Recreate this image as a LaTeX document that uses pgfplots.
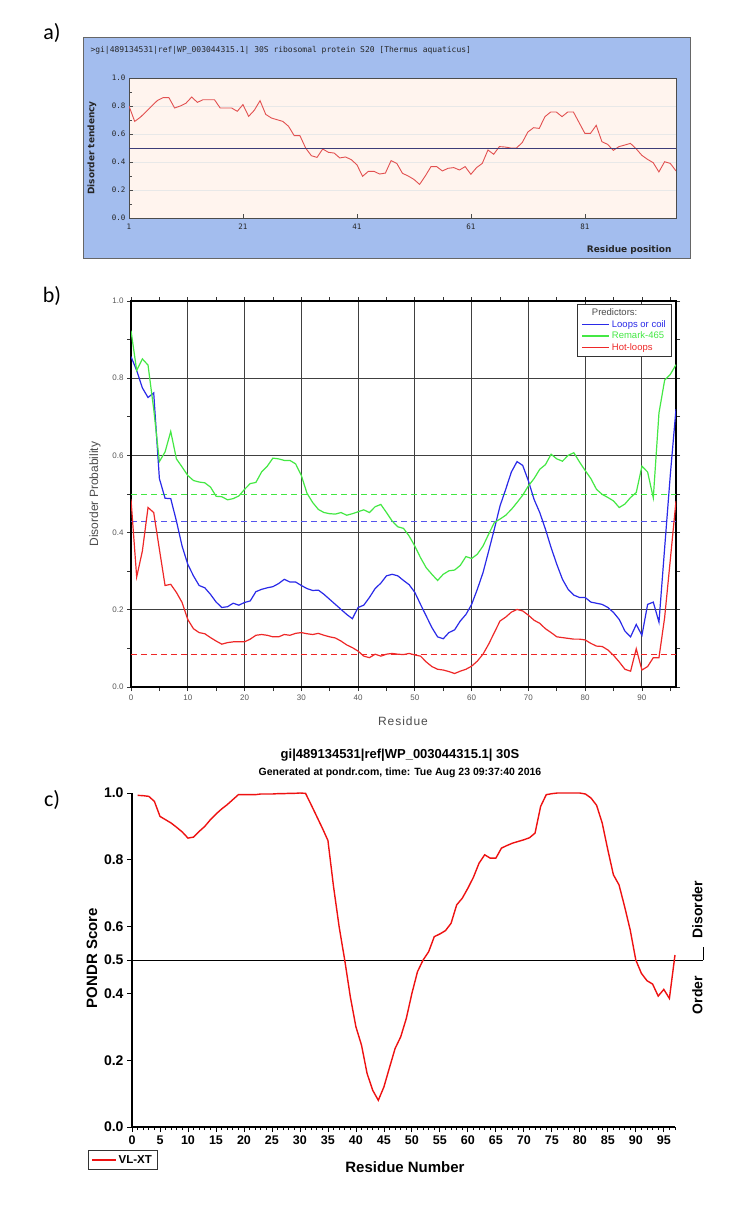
\documentclass[border=0pt]{standalone}
\usepackage{fontspec}
\setmainfont{Liberation Sans}
\newfontfamily\monof{DejaVu Sans Mono}
\newfontfamily\verdf{DejaVu Sans}
\newfontfamily\carlf{Carlito}
\usepackage{pgfplots}
\pgfplotsset{compat=1.18}
\pgfplotsset{/pgf/number format/assume math mode=true}
\definecolor{frameblue}{HTML}{A3BDEE}
\definecolor{pinkbg}{HTML}{FFF4EE}
\definecolor{aRed}{HTML}{E25050}
\definecolor{aLine}{HTML}{3C3C78}
\definecolor{bBlue}{HTML}{2A2AE8}
\definecolor{bGreen}{HTML}{44E844}
\definecolor{bRed}{HTML}{EE2828}
\definecolor{cRed}{HTML}{EE1111}
\begin{document}
\begin{tikzpicture}
\path[use as bounding box] (0pt,0pt) rectangle (738pt,-1210pt);
\fill[white] (0pt,0pt) rectangle (738pt,-1210pt);
% panel letters
\node[font=\carlf\fontsize{22}{24}\selectfont] at (52pt,-33pt) {a)};
\node[font=\carlf\fontsize{22}{24}\selectfont] at (52pt,-296pt) {b)};
\node[font=\carlf\fontsize{22}{24}\selectfont] at (52pt,-800pt) {c)};
% ---------------- panel a ----------------
\filldraw[fill=frameblue, draw=black!60, line width=0.8pt] (83pt,-37pt) rectangle (690pt,-258pt);
\node[anchor=west, font=\monof\fontsize{8}{9}\selectfont, text=black!85] at (87pt,-50pt)
  {>gi|489134531|ref|WP\_003044315.1| 30S ribosomal protein S20 [Thermus aquaticus]};
\node[rotate=90, font=\verdf\bfseries\fontsize{9}{10}\selectfont, text=black!85] at (92pt,-148pt) {Disorder tendency};
\node[anchor=east, font=\verdf\bfseries\fontsize{9}{10}\selectfont, text=black!85] at (675pt,-250pt) {Residue position};
\begin{axis}[at={(129pt,-218pt)}, anchor=south west, scale only axis,
  width=547pt, height=140pt, xmin=1, xmax=97, ymin=0, ymax=1,
  axis background/.style={fill=pinkbg},
  axis line style={black!70, line width=0.8pt},
  xtick={1,21,41,61,81}, ytick={0,0.2,0.4,0.6,0.8,1.0}, minor ytick={0.1,0.3,0.5,0.7,0.9},
  yticklabels={0.0,0.2,0.4,0.6,0.8,1.0},
  xtick pos=left, ytick pos=left, tick align=inside,
  major tick length=4pt, minor tick length=3pt,
  tick style={black!70, line width=0.6pt},
  ymajorgrids, major grid style={black!9, line width=0.7pt},
  tick label style={font=\monof\fontsize{7.5}{9}\selectfont, text=black!85},
  xticklabel style={yshift=-2pt}]
\addplot[aRed, line width=0.9pt] coordinates {
(1,0.80)(2,0.69)(3,0.72)(4,0.76)(5,0.80)(6,0.84)(7,0.86)(8,0.86)(9,0.786)(10,0.80)
(11,0.82)(12,0.864)(13,0.826)(14,0.845)(15,0.845)(16,0.845)(17,0.786)(18,0.786)(19,0.786)(20,0.762)
(21,0.81)(22,0.726)(23,0.77)(24,0.838)(25,0.74)(26,0.714)(27,0.702)(28,0.69)(29,0.655)(30,0.588)
(31,0.588)(32,0.50)(33,0.445)(34,0.433)(35,0.493)(36,0.469)(37,0.464)(38,0.429)(39,0.436)(40,0.417)
(41,0.38)(42,0.298)(43,0.333)(44,0.333)(45,0.314)(46,0.321)(47,0.41)(48,0.39)(49,0.319)(50,0.30)
(51,0.276)(52,0.24)(53,0.30)(54,0.367)(55,0.367)(56,0.336)(57,0.355)(58,0.36)(59,0.343)(60,0.367)
(61,0.312)(62,0.36)(63,0.39)(64,0.486)(65,0.455)(66,0.51)(67,0.507)(68,0.50)(69,0.50)(70,0.538)
(71,0.614)(72,0.645)(73,0.64)(74,0.724)(75,0.757)(76,0.757)(77,0.724)(78,0.757)(79,0.757)(80,0.681)
(81,0.605)(82,0.605)(83,0.662)(84,0.545)(85,0.526)(86,0.483)(87,0.51)(88,0.521)(89,0.533)(90,0.495)
(91,0.448)(92,0.419)(93,0.395)(94,0.329)(95,0.402)(96,0.39)(97,0.336)};
\addplot[aLine, line width=0.9pt] coordinates {(1,0.5)(97,0.5)};
\end{axis}
% ---------------- panel b ----------------
\node[rotate=90, font=\fontsize{12}{14}\selectfont, text=black!70] at (95pt,-494pt) {Disorder Probability};
\node[font=\fontsize{12}{14}\selectfont\addfontfeature{LetterSpace=8}, text=black!70] at (403pt,-721pt) {Residue};
\begin{axis}[at={(131pt,-687pt)}, anchor=south west, scale only axis,
  width=545pt, height=386pt, xmin=0, xmax=96, ymin=0, ymax=1,
  axis line style={black, line width=1.1pt},
  xtick={0,10,...,90}, minor xtick={5,15,...,95},
  ytick={0,0.2,0.4,0.6,0.8,1.0}, minor ytick={0.1,0.3,0.5,0.7,0.9},
  yticklabels={0.0,0.2,0.4,0.6,0.8,1.0},
  tick align=outside, major tick length=4pt, minor tick length=4pt,
  tick style={black!80, line width=0.8pt},
  grid=major, major grid style={black!75, line width=0.9pt},
  tick label style={font=\fontsize{8}{9}\selectfont, text=black!65},
  legend style={at={(0.993,0.993)}, anchor=north east, draw=black!80, line width=0.8pt,
    fill=white, font=\fontsize{9.5}{10.5}\selectfont, row sep=-1pt, inner xsep=4pt, inner ysep=3pt},
  legend cell align=left]
\addlegendimage{empty legend}
\addlegendentry{\hspace{-20pt}\textcolor{black!70}{Predictors:}}
\addlegendimage{legend image code/.code={\draw[bBlue, line width=1.6pt] (0pt,0pt) -- (27pt,0pt);}}
\addlegendentry{\textcolor{bBlue}{Loops or coil}}
\addlegendimage{legend image code/.code={\draw[bGreen, line width=1.6pt] (0pt,0pt) -- (27pt,0pt);}}
\addlegendentry{\textcolor{bGreen}{Remark-465}}
\addlegendimage{legend image code/.code={\draw[bRed, line width=1.6pt] (0pt,0pt) -- (27pt,0pt);}}
\addlegendentry{\textcolor{bRed}{Hot-loops}}
\addplot[forget plot, bGreen, line width=1pt, dash pattern=on 6pt off 4pt] coordinates {(0,0.5)(96,0.5)};
\addplot[forget plot, bBlue!80, line width=1pt, dash pattern=on 6pt off 4pt] coordinates {(0,0.43)(96,0.43)};
\addplot[forget plot, bRed, line width=1pt, dash pattern=on 6pt off 4pt] coordinates {(0,0.085)(96,0.085)};
\addplot[forget plot, bBlue, line width=1.2pt] coordinates {
(0,0.856)(1,0.82)(2,0.775)(3,0.75)(4,0.762)(5,0.54)(6,0.489)(7,0.488)(8,0.43)(9,0.365)
(10,0.318)(11,0.288)(12,0.263)(13,0.257)(14,0.24)(15,0.22)(16,0.206)(17,0.208)(18,0.217)(19,0.212)
(20,0.219)(21,0.223)(22,0.247)(23,0.253)(24,0.257)(25,0.26)(26,0.268)(27,0.279)(28,0.272)(29,0.272)
(30,0.263)(31,0.255)(32,0.25)(33,0.251)(34,0.24)(35,0.227)(36,0.214)(37,0.201)(38,0.188)(39,0.177)
(40,0.206)(41,0.212)(42,0.232)(43,0.255)(44,0.269)(45,0.288)(46,0.292)(47,0.288)(48,0.276)(49,0.265)
(50,0.245)(51,0.214)(52,0.184)(53,0.154)(54,0.13)(55,0.125)(56,0.141)(57,0.148)(58,0.171)(59,0.188)
(60,0.214)(61,0.253)(62,0.296)(63,0.352)(64,0.409)(65,0.469)(66,0.512)(67,0.557)(68,0.584)(69,0.574)
(70,0.534)(71,0.486)(72,0.452)(73,0.409)(74,0.361)(75,0.318)(76,0.279)(77,0.253)(78,0.238)(79,0.232)
(80,0.232)(81,0.22)(82,0.217)(83,0.214)(84,0.206)(85,0.193)(86,0.175)(87,0.145)(88,0.13)(89,0.162)
(90,0.134)(91,0.214)(92,0.22)(93,0.168)(94,0.36)(95,0.55)(96,0.72)};
\addplot[forget plot, bGreen, line width=1.2pt] coordinates {
(0,0.923)(1,0.82)(2,0.85)(3,0.834)(4,0.72)(5,0.584)(6,0.609)(7,0.662)(8,0.591)(9,0.57)
(10,0.548)(11,0.535)(12,0.531)(13,0.529)(14,0.518)(15,0.494)(16,0.493)(17,0.485)(18,0.488)(19,0.495)
(20,0.512)(21,0.527)(22,0.53)(23,0.557)(24,0.572)(25,0.593)(26,0.591)(27,0.587)(28,0.587)(29,0.578)
(30,0.548)(31,0.502)(32,0.478)(33,0.46)(34,0.452)(35,0.449)(36,0.448)(37,0.452)(38,0.445)(39,0.449)
(40,0.454)(41,0.459)(42,0.452)(43,0.467)(44,0.473)(45,0.452)(46,0.43)(47,0.415)(48,0.411)(49,0.391)
(50,0.365)(51,0.335)(52,0.309)(53,0.292)(54,0.276)(55,0.292)(56,0.301)(57,0.303)(58,0.315)(59,0.338)
(60,0.333)(61,0.344)(62,0.365)(63,0.396)(64,0.426)(65,0.435)(66,0.445)(67,0.46)(68,0.478)(69,0.497)
(70,0.521)(71,0.54)(72,0.564)(73,0.576)(74,0.603)(75,0.591)(76,0.585)(77,0.6)(78,0.607)(79,0.583)
(80,0.561)(81,0.54)(82,0.512)(83,0.499)(84,0.491)(85,0.482)(86,0.465)(87,0.474)(88,0.491)(89,0.504)
(90,0.572)(91,0.557)(92,0.49)(93,0.71)(94,0.795)(95,0.81)(96,0.835)};
\addplot[forget plot, bRed, line width=1.2pt] coordinates {
(0,0.486)(1,0.285)(2,0.352)(3,0.465)(4,0.452)(5,0.357)(6,0.263)(7,0.266)(8,0.245)(9,0.219)
(10,0.175)(11,0.151)(12,0.141)(13,0.138)(14,0.128)(15,0.119)(16,0.111)(17,0.115)(18,0.117)(19,0.117)
(20,0.117)(21,0.124)(22,0.134)(23,0.136)(24,0.134)(25,0.13)(26,0.13)(27,0.136)(28,0.134)(29,0.139)
(30,0.141)(31,0.138)(32,0.136)(33,0.139)(34,0.134)(35,0.13)(36,0.127)(37,0.119)(38,0.109)(39,0.102)
(40,0.093)(41,0.08)(42,0.076)(43,0.085)(44,0.08)(45,0.085)(46,0.087)(47,0.085)(48,0.084)(49,0.087)
(50,0.083)(51,0.08)(52,0.065)(53,0.053)(54,0.046)(55,0.044)(56,0.04)(57,0.035)(58,0.041)(59,0.046)
(60,0.054)(61,0.067)(62,0.085)(63,0.111)(64,0.141)(65,0.171)(66,0.181)(67,0.194)(68,0.201)(69,0.197)
(70,0.186)(71,0.173)(72,0.165)(73,0.151)(74,0.141)(75,0.13)(76,0.128)(77,0.126)(78,0.124)(79,0.124)
(80,0.122)(81,0.113)(82,0.106)(83,0.105)(84,0.096)(85,0.082)(86,0.065)(87,0.046)(88,0.041)(89,0.099)
(90,0.044)(91,0.053)(92,0.076)(93,0.076)(94,0.18)(95,0.33)(96,0.482)};
\end{axis}
% ---------------- panel c ----------------
\node[font=\bfseries\fontsize{13}{15}\selectfont] at (400pt,-755pt) {gi|489134531|ref|WP\_003044315.1| 30S};
\node[font=\bfseries\fontsize{10.5}{12}\selectfont] at (400pt,-773pt) {Generated at pondr.com, time: Tue Aug 23 09:37:40 2016};
\node[rotate=90, font=\bfseries\fontsize{15}{17}\selectfont] at (92pt,-958pt) {PONDR Score};
\node[font=\bfseries\fontsize{15}{17}\selectfont] at (405pt,-1167pt) {Residue Number};
\begin{axis}[at={(132pt,-1127pt)}, anchor=south west, scale only axis,
  width=543pt, height=334pt, xmin=0, xmax=97, ymin=0, ymax=1, clip=false,
  axis x line*=bottom, axis y line*=left,
  axis line style={black, line width=1.2pt, -},
  xtick={0,5,...,95}, minor xtick={1,2,...,97},
  ytick={0,0.2,0.4,0.5,0.6,0.8,1.0},
  yticklabels={0.0,0.2,0.4,0.5,0.6,0.8,1.0},
  tick align=outside, major tick length=5pt, minor tick length=3pt,
  tick style={black, line width=0.8pt},
  tick label style={font=\bfseries\fontsize{12.5}{14}\selectfont},
  yticklabel style={font=\bfseries\fontsize{14}{16}\selectfont},
  legend style={at={(-0.081,-0.069)}, anchor=north west, draw=black!80, line width=0.6pt,
    font=\bfseries\fontsize{11.5}{13}\selectfont, inner xsep=3pt, inner ysep=3pt},
  legend image code/.code={\draw[#1] (0pt,0pt) -- (24pt,0pt);}]
\addplot[forget plot, black, line width=1pt] coordinates {(0,0.5)(102,0.5)};
\draw[black, line width=0.8pt] (axis cs:102,0.5) -- (axis cs:102,0.54);
\node[rotate=90, font=\bfseries\fontsize{14}{16}\selectfont] at (axis cs:101,0.65) {Disorder};
\node[rotate=90, font=\bfseries\fontsize{14}{16}\selectfont] at (axis cs:101,0.395) {Order};
\addplot[cRed, line width=1.4pt] coordinates {
(1,0.993)(2,0.992)(3,0.99)(4,0.975)(5,0.93)(6,0.92)(7,0.91)(8,0.897)(9,0.883)(10,0.865)
(11,0.868)(12,0.885)(13,0.9)(14,0.92)(15,0.937)(16,0.952)(17,0.965)(18,0.98)(19,0.995)(20,0.995)
(21,0.995)(22,0.995)(23,0.997)(24,0.997)(25,0.997)(26,0.998)(27,0.998)(28,0.999)(29,0.999)(30,1.0)
(31,0.999)(32,0.965)(33,0.93)(34,0.895)(35,0.858)(36,0.72)(37,0.6)(38,0.5)(39,0.39)(40,0.3)
(41,0.245)(42,0.16)(43,0.11)(44,0.08)(45,0.12)(46,0.178)(47,0.235)(48,0.27)(49,0.325)(50,0.4)
(51,0.465)(52,0.5)(53,0.525)(54,0.57)(55,0.578)(56,0.588)(57,0.61)(58,0.665)(59,0.685)(60,0.715)
(61,0.748)(62,0.79)(63,0.815)(64,0.805)(65,0.805)(66,0.835)(67,0.843)(68,0.85)(69,0.855)(70,0.86)
(71,0.866)(72,0.88)(73,0.96)(74,0.995)(75,0.998)(76,1.0)(77,1.0)(78,1.0)(79,1.0)(80,1.0)
(81,0.997)(82,0.985)(83,0.963)(84,0.91)(85,0.83)(86,0.755)(87,0.725)(88,0.66)(89,0.59)(90,0.5)
(91,0.46)(92,0.438)(93,0.428)(94,0.392)(95,0.412)(96,0.385)(97,0.515)};
\addlegendentry{VL-XT}
\end{axis}
\end{tikzpicture}
\end{document}
